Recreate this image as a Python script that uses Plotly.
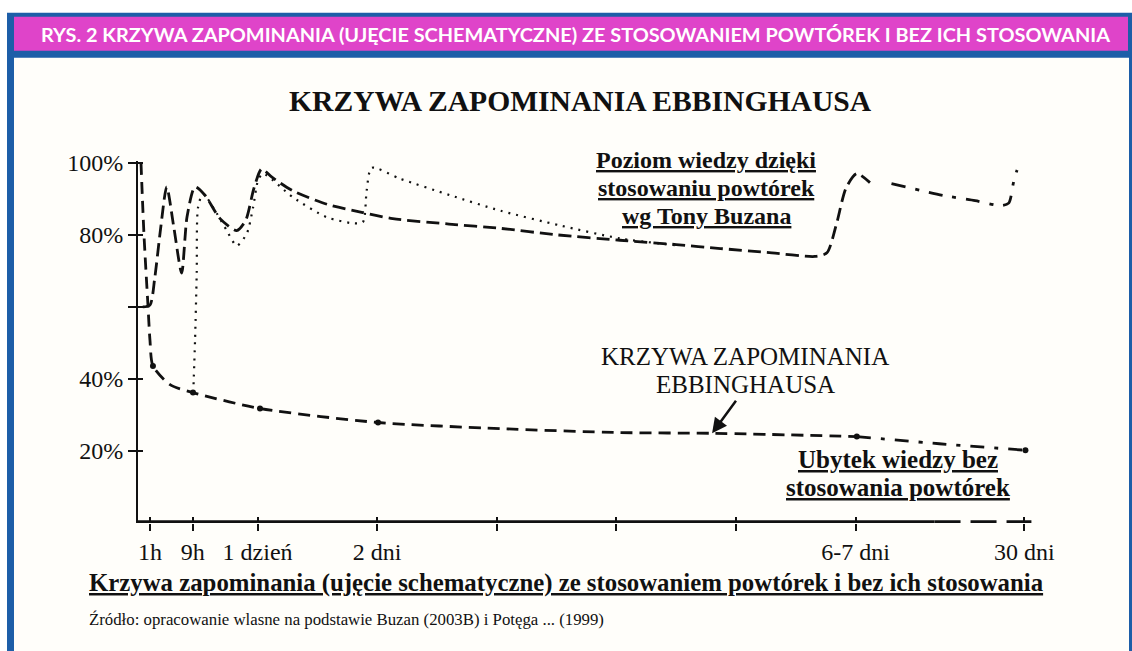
import plotly.graph_objects as go

# ---------------- data ----------------
# x unit: 0 = origin, 1 = "1 dzień", 2 = "2 dni", ... 6 = "6-7 dni", 7.41 = "30 dni"
tick_vals = [0.1, 0.457, 1, 2, 3, 4, 5, 6, 7.41]
tick_text = ["1h", "9h", "1 dzień", "2 dni", "", "", "", "6-7 dni", "30 dni"]
y_tick_vals = [20, 40, 60, 80, 100]
y_tick_text = ["20%", "40%", "", "80%", "100%"]

# Buzan curve (repetitions) – main dashed part
buzan_x = [0.04, 0.10, 0.14, 0.19, 0.24, 0.30, 0.365, 0.41, 0.477, 0.56, 0.686, 0.825,
           0.90, 0.97, 1.034, 1.12, 1.296, 1.58, 1.88, 2.13, 2.6, 3.03, 3.5, 4.03, 4.5,
           4.87, 5.3, 5.66, 5.76, 5.84, 5.92, 6.01, 6.12]
buzan_y = [60, 60.5, 68, 82, 93.3, 82, 69.4, 85, 93.3, 91, 84.5, 81.2,
           84, 93, 98.3, 96, 92.2, 88.5, 86.2, 84.5, 83, 81.8, 80, 78.5, 77.3,
           76.2, 75, 74, 75, 83, 93, 97, 94.5]
# Buzan curve after 6-7 days (dash-dot part)
buzan2_x = [6.30, 6.74, 7.0, 7.21, 7.28, 7.32, 7.35]
buzan2_y = [94.2, 90.9, 89.5, 88.1, 88.8, 94.5, 98.0]

# dotted curve (single repetitions)
dot_x = [0.462, 0.477, 0.491, 0.502, 0.543, 0.658, 0.742, 0.825, 0.909, 0.962, 1.003, 1.045,
         1.296, 1.578, 1.80, 1.88, 1.912, 1.954, 2.19, 2.61, 3.03, 3.53, 4.03, 4.53]
dot_y = [36.2, 50.8, 69.4, 87.6, 91.4, 86, 81.2, 77, 80.3, 87.6, 95, 97,
         90.4, 84.9, 83.2, 83.5, 92.3, 98.6, 95.6, 91, 86.7, 82.6, 79, 77]

# Ebbinghaus forgetting curve
ebb_x = [0.025, 0.05, 0.084, 0.10, 0.125, 0.268, 0.46, 1.02, 2.007, 3.03, 4.03, 4.82, 6.01]
ebb_y = [100, 80, 60, 50.8, 43.6, 38.4, 36.2, 31.8, 27.9, 26.2, 25.1, 24.9, 24]
ebb2_x = [6.01, 6.7, 7.42]
ebb2_y = [24, 22, 20.2]
ebb_mark_x = [0.125, 0.46, 1.02, 2.007, 6.01, 7.42]
ebb_mark_y = [43.6, 36.2, 31.8, 27.9, 24, 20.2]

# arrow target on Ebbinghaus curve
arrow_x, arrow_y = 4.8, 24.9

# axis geometry (data units)
X_RANGE = [0, 7.5]
Y_RANGE = [0, 100.5]
X_AXIS_SOLID = [0, 6.66]
X_AXIS_DASHED = [6.66, 7.47]

# ---------------- layout geometry ----------------
W, H = 1132, 651
L, R, T, B = 138, 97, 161.2, 128
PW, PH = W - L - R, H - T - B


def px(x):
    return (x - L) / PW


def py(y):
    return (H - B - y) / PH


SERIF = "Liberation Serif, Times New Roman, serif"
BLACK = "#111111"

fig = go.Figure()

# x axis line drawn in data space (solid part + dashed continuation)
fig.add_trace(go.Scatter(x=X_AXIS_SOLID, y=[0, 0], mode="lines",
                         line=dict(color=BLACK, width=5.5), hoverinfo="skip"))
fig.add_trace(go.Scatter(x=X_AXIS_DASHED, y=[0, 0], mode="lines",
                         line=dict(color=BLACK, width=5.5, dash="26px,10px"), hoverinfo="skip"))

# curves
fig.add_trace(go.Scatter(x=dot_x, y=dot_y, mode="lines",
                         line=dict(color=BLACK, width=2.2, dash="2px,6px", shape="spline", smoothing=0.7)))
fig.add_trace(go.Scatter(x=buzan_x, y=buzan_y, mode="lines",
                         line=dict(color=BLACK, width=2.8, dash="13px,6px", shape="spline", smoothing=0.7)))
fig.add_trace(go.Scatter(x=buzan2_x, y=buzan2_y, mode="lines",
                         line=dict(color=BLACK, width=2.8, dash="14px,10px,4px,10px", shape="spline", smoothing=0.7)))
fig.add_trace(go.Scatter(x=ebb_x, y=ebb_y, mode="lines",
                         line=dict(color=BLACK, width=2.8, dash="12px,7px", shape="spline", smoothing=0.7)))
fig.add_trace(go.Scatter(x=ebb2_x, y=ebb2_y, mode="lines",
                         line=dict(color=BLACK, width=2.8, dash="14px,10px,4px,10px", shape="spline", smoothing=0.7)))
fig.add_trace(go.Scatter(x=ebb_mark_x, y=ebb_mark_y, mode="markers",
                         marker=dict(color=BLACK, size=6), cliponaxis=False))
# invisible anchor trace for the overlay axes (inner tick halves)
fig.add_trace(go.Scatter(x=X_RANGE, y=Y_RANGE, mode="markers", marker=dict(opacity=0),
                         xaxis="x2", yaxis="y2", hoverinfo="skip"))

axis_common = dict(showgrid=False, zeroline=False, tickcolor=BLACK, tickwidth=2,
                   tickfont=dict(family=SERIF, size=24, color=BLACK), fixedrange=True)

fig.update_layout(
    width=W, height=H,
    margin=dict(l=L, r=R, t=T, b=B, pad=0),
    paper_bgcolor="white", plot_bgcolor="rgba(0,0,0,0)",
    showlegend=False,
    xaxis=dict(range=X_RANGE, tickmode="array", tickvals=tick_vals, ticktext=tick_text,
               ticks="outside", ticklen=7, showline=False, **axis_common),
    yaxis=dict(range=Y_RANGE, tickmode="array", tickvals=y_tick_vals, ticktext=y_tick_text,
               ticks="outside", ticklen=8, showline=True, linecolor=BLACK, linewidth=2, **axis_common),
    xaxis2=dict(range=X_RANGE, tickmode="array", tickvals=tick_vals, overlaying="x", anchor="y2",
                ticks="inside", ticklen=6, showticklabels=False, showline=False, **axis_common),
    yaxis2=dict(range=Y_RANGE, tickmode="array", tickvals=y_tick_vals, overlaying="y", anchor="x2",
                ticks="inside", ticklen=5, showticklabels=False, showline=False, **axis_common),
)

# frame / banner decorations (paper coordinates)
BLUE = "#1d5ea8"
MAGENTA = "#df44c9"
frame_shapes = [
    dict(type="rect", xref="paper", yref="paper", x0=px(7), x1=px(1132), y0=py(13), y1=py(651),
         fillcolor=BLUE, line=dict(width=0), layer="below"),
    dict(type="rect", xref="paper", yref="paper", x0=px(14), x1=px(1128), y0=py(17), y1=py(51),
         fillcolor=MAGENTA, line=dict(width=0), layer="below"),
    dict(type="rect", xref="paper", yref="paper", x0=px(14), x1=px(1129), y0=py(58), y1=py(651),
         fillcolor="#fffefa", line=dict(width=0), layer="below"),
]
for s in frame_shapes:
    fig.add_shape(**s)


def ann(text, x, y, size, bold=False, family=SERIF, color=BLACK, xanchor="center"):
    fig.add_annotation(text=text, x=px(x), y=py(y), xref="paper", yref="paper", showarrow=False,
                       xanchor=xanchor, yanchor="middle",
                       font=dict(family=family, size=size, color=color, weight="bold" if bold else "normal"))


ann("RYS. 2 KRZYWA ZAPOMINANIA (UJĘCIE SCHEMATYCZNE) ZE STOSOWANIEM POWTÓREK I BEZ ICH STOSOWANIA",
    575, 34, 19.9, bold=True, family="Lato, sans-serif", color="white")
ann("KRZYWA ZAPOMINANIA EBBINGHAUSA", 580, 101, 29.6, bold=True)
ann("<u>Poziom wiedzy dzięki</u>", 706, 160, 24, bold=True)
ann("<u>stosowaniu powtórek</u>", 706, 188, 24, bold=True)
ann("<u>wg Tony Buzana</u>", 706, 216, 24, bold=True)
ann("KRZYWA ZAPOMINANIA", 745, 357, 25)
ann("EBBINGHAUSA", 745, 385, 25)
ann("<u>Ubytek wiedzy bez</u>", 898, 460, 25, bold=True)
ann("<u>stosowania powtórek</u>", 898, 488, 25, bold=True)
ann("<u>Krzywa zapominania (ujęcie schematyczne) ze stosowaniem powtórek i bez ich stosowania</u>",
    87, 583, 24.8, bold=True, xanchor="left")
ann("Źródło: opracowanie wlasne na podstawie Buzan (2003B) i Potęga ... (1999)", 87, 619, 16.8, xanchor="left")

# arrow pointing at Ebbinghaus curve
fig.add_annotation(x=arrow_x, y=arrow_y, xref="x", yref="y", ax=25, ay=-34, axref="pixel", ayref="pixel",
                   showarrow=True, arrowhead=2, arrowsize=1.2, arrowwidth=2.5, arrowcolor=BLACK, text="")

fig.write_html("out.html", config={"displayModeBar": False},
               post_script="document.body.style.margin='0';document.body.style.overflow='hidden';")
